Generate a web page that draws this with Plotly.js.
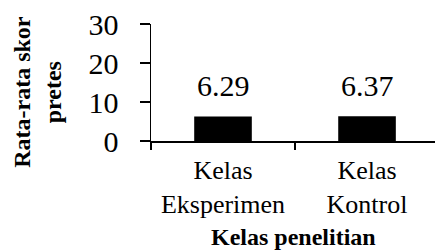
<!DOCTYPE html>
<html>
<head>
<meta charset="utf-8">
<script src="https://cdn.plot.ly/plotly-3.0.1.min.js"></script>
<style>html,body{margin:0;padding:0;background:#fff;}#chart{width:435px;height:250px;}</style>
</head>
<body>
<div id="chart"></div>
<script>
const categories = ["Kelas<br>Eksperimen", "Kelas<br>Kontrol"];
const values = [6.29, 6.37];
const valueLabels = ["6.29", "6.37"];
const yTicks = [0, 10, 20, 30];
const yTitle = "Rata-rata skor<br>pretes";
const xTitle = "Kelas penelitian";

const FONT = 'Liberation Serif';

const trace = {
  type: 'bar',
  x: categories,
  y: values,
  width: 0.4,
  marker: {color: '#000000', line: {width: 0}},
  hoverinfo: 'none'
};

const annotations = values.map((v, i) => ({
  x: categories[i], y: v, xref: 'x', yref: 'y',
  text: valueLabels[i], showarrow: false,
  xanchor: 'center', yanchor: 'bottom', yshift: 12,
  font: {family: FONT, size: 30, color: '#000'}
}));
annotations.push({
  x: -0.398, y: 0.42, xref: 'paper', yref: 'paper',
  text: '<b>' + yTitle + '</b>', showarrow: false, textangle: -90,
  xanchor: 'center', yanchor: 'middle',
  font: {family: FONT, size: 24, color: '#000'}
});
annotations.push({
  x: 0.5, y: -0.95, xref: 'paper', yref: 'paper',
  text: '<b>' + xTitle + '</b>', showarrow: false,
  xanchor: 'center', yanchor: 'bottom',
  font: {family: FONT, size: 24, color: '#000'}
});

const layout = {
  width: 435, height: 250,
  margin: {l: 151, r: 0, t: 24, b: 109, pad: 0},
  paper_bgcolor: '#fff', plot_bgcolor: '#fff',
  showlegend: false,
  font: {family: FONT, color: '#000'},
  xaxis: {
    type: 'category',
    range: [-0.5, 1.472],
    showline: true, linecolor: '#000', linewidth: 1.5,
    ticks: 'outside', ticklen: 7, tickwidth: 1.5, tickcolor: '#000',
    tickson: 'boundaries',
    showgrid: false, zeroline: false,
    tickfont: {family: FONT, size: 26, color: '#000'},
    ticklabelstandoff: 5,
    fixedrange: true
  },
  yaxis: {
    range: [0, 30],
    tickvals: yTicks,
    ticktext: yTicks.map(String),
    showline: true, linecolor: '#000', linewidth: 1.5,
    ticks: 'outside', ticklen: 10, tickwidth: 1.5, tickcolor: '#000',
    showgrid: false, zeroline: false,
    tickfont: {family: FONT, size: 30, color: '#000'},
    ticklabelstandoff: 15,
    fixedrange: true
  },
  annotations: annotations
};

Plotly.newPlot('chart', [trace], layout, {staticPlot: true, displayModeBar: false});
</script>
</body>
</html>
